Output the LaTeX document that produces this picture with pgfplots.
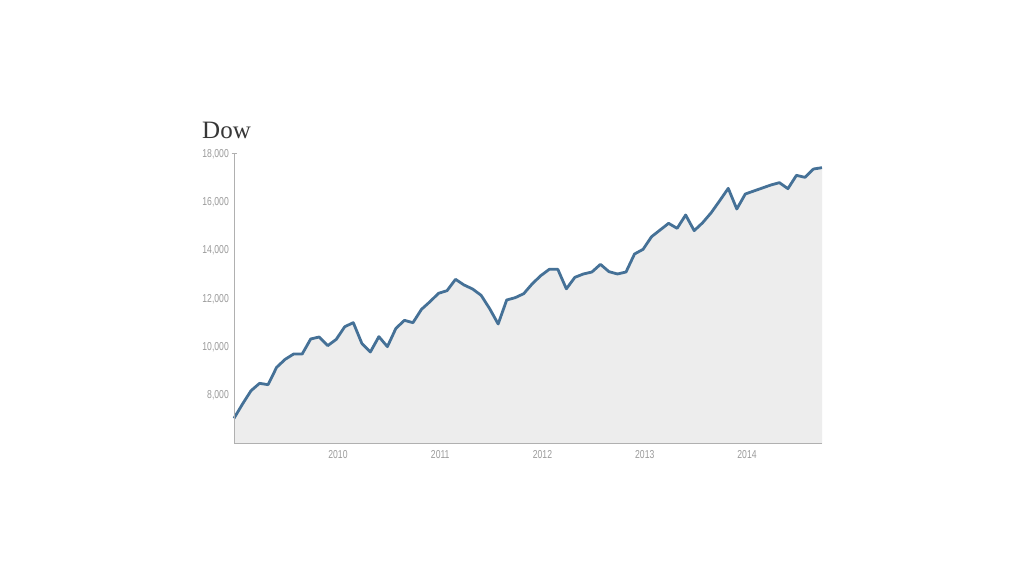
\documentclass[border=0pt]{standalone}
\usepackage{pgfplots}
\pgfplotsset{compat=1.18}
\usepackage{pgfplotstable}
\usepackage{fontspec}
\setmainfont{Liberation Serif}
\newfontfamily\condfont[FakeStretch=0.75]{Liberation Sans}
\definecolor{linecol}{RGB}{69,113,151}
\definecolor{fillcol}{RGB}{237,237,237}
\definecolor{tickgray}{RGB}{155,155,155}
\definecolor{axisgray}{RGB}{176,176,176}
\definecolor{titlegray}{RGB}{55,55,55}
\pgfplotstableread{
i v
0 7063
1 7655
2 8207
3 8510
4 8455
5 9172
6 9503
7 9724
8 9724
9 10345
10 10428
11 10069
12 10331
13 10855
14 11020
15 10165
16 9807
17 10442
18 10028
19 10786
20 11117
21 11020
22 11572
23 11890
24 12235
25 12345
26 12814
27 12579
28 12414
29 12152
30 11600
31 10966
32 11959
33 12055
34 12221
35 12630
36 12966
37 13228
38 13228
39 12420
40 12897
41 13035
42 13117
43 13435
44 13131
45 13035
46 13117
47 13862
48 14055
49 14579
50 14855
51 15131
52 14924
53 15476
54 14828
55 15159
56 15572
57 16069
58 16579
59 15724
60 16345
61 16469
62 16593
63 16717
64 16814
65 16565
66 17117
67 17034
68 17379
69 17434
}\dow
\begin{document}
\begin{tikzpicture}
\fill[white] (0,0) rectangle (1024bp,576bp);
\useasboundingbox (0,0) rectangle (1024bp,576bp);
\node[anchor=base west, inner sep=0pt, text=titlegray, font=\fontsize{25bp}{30bp}\selectfont] at (202bp,437.7bp) {Dow};
\begin{axis}[
  at={(234bp,132bp)}, anchor=south west,
  scale only axis, width=588bp, height=290bp,
  xmin=0, xmax=69, ymin=6000, ymax=18000,
  scaled ticks=false,
  axis lines*=left,
  axis line style={draw=axisgray, line width=1bp},
  axis on top,
  xtick={12.2,24.2,36.2,48.2,60.2},
  xticklabels={2010,2011,2012,2013,2014},
  ytick={8000,10000,12000,14000,16000,18000},
  yticklabels={{8,000},{10,000},{12,000},{14,000},{16,000},{18,000}},
  major tick length=0pt,
  extra y ticks={18000},
  extra y tick labels={},
  extra y tick style={major tick length=5bp, tick align=center, tick style={draw=axisgray, line width=1bp}},
  ticklabel style={font=\condfont\fontsize{11.5bp}{12bp}\selectfont, text=tickgray, inner sep=0pt},
  xticklabel shift=6.5bp,
  yticklabel shift=5bp,
  clip=false,
]
\addplot[draw=none, fill=fillcol] table[x=i, y=v] {\dow} \closedcycle;
\addplot[draw=linecol, line width=2.8bp, line join=round, mark=none] table[x=i, y=v] {\dow};
\end{axis}
\end{tikzpicture}
\end{document}
